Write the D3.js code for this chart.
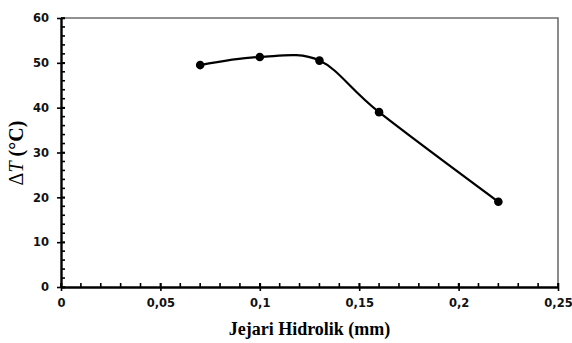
<!DOCTYPE html>
<html>
<head>
<meta charset="utf-8">
<script src="https://cdn.jsdelivr.net/npm/d3@7"></script>
<style>
  html, body { margin: 0; padding: 0; background: #fff; }
</style>
</head>
<body>
<div id="chart"></div>
<script>
// data
var radius_mm = [0.07, 0.10, 0.13, 0.16, 0.22];
var delta_t = [49.5, 51.3, 50.5, 39, 19];
var x_ticks = [0, 0.05, 0.1, 0.15, 0.2, 0.25];
var y_ticks = [0, 10, 20, 30, 40, 50, 60];
var x_title = "Jejari Hidrolik (mm)";

var W = 572, H = 343;
var plot = { left: 61, right: 558, top: 18, bottom: 287 };

var svg = d3.select("#chart").append("svg")
  .attr("width", W)
  .attr("height", H);

var x = d3.scaleLinear().domain([0, 0.25]).range([plot.left, plot.right]);
var y = d3.scaleLinear().domain([0, 60]).range([plot.bottom, plot.top]);

// frame top + right in grey
svg.append("path")
  .attr("d", "M" + plot.left + "," + plot.top + "H" + plot.right + "V" + plot.bottom)
  .attr("fill", "none")
  .attr("stroke", "#6e6e6e")
  .attr("stroke-width", 1.6);

var tickFont = "'DejaVu Sans', Verdana, sans-serif";
var fmt = function(d) { return String(d).replace(".", ","); };

// minor ticks
var xMinor = d3.range(0, 0.2501, 0.01);
svg.append("g").selectAll("line")
  .data(xMinor)
  .join("line")
  .attr("x1", d => x(d)).attr("x2", d => x(d))
  .attr("y1", plot.bottom).attr("y2", plot.bottom - 4)
  .attr("stroke", "#000").attr("stroke-width", 1.6);

var yMinor = d3.range(0, 60.01, 2);
svg.append("g").selectAll("line")
  .data(yMinor)
  .join("line")
  .attr("y1", d => y(d)).attr("y2", d => y(d))
  .attr("x1", plot.left).attr("x2", plot.left + 4)
  .attr("stroke", "#000").attr("stroke-width", 1.6);

// x axis
var xAxis = svg.append("g")
  .attr("transform", "translate(0," + plot.bottom + ")")
  .call(d3.axisBottom(x).tickValues(x_ticks).tickFormat(fmt).tickSize(4).tickSizeOuter(0));
xAxis.select(".domain").attr("stroke", "#000").attr("stroke-width", 2.4);
xAxis.selectAll(".tick line").attr("y1", -4).attr("stroke-width", 1.6);
xAxis.selectAll("text")
  .attr("y", 12)
  .style("font-family", tickFont)
  .style("font-size", "11.5px")
  .style("font-weight", "bold")
  .attr("fill", "#111");

// y axis
var yAxis = svg.append("g")
  .attr("transform", "translate(" + plot.left + ",0)")
  .call(d3.axisLeft(y).tickValues(y_ticks).tickSize(4).tickSizeOuter(0));
yAxis.select(".domain").attr("stroke", "#000").attr("stroke-width", 2.4);
yAxis.selectAll(".tick line").attr("x1", 4).attr("stroke-width", 1.6);
yAxis.selectAll("text")
  .attr("x", -12)
  .style("font-family", tickFont)
  .style("font-size", "11.5px")
  .style("font-weight", "bold")
  .attr("fill", "#111");

// smooth line
var pts = radius_mm.map((d, i) => [d, delta_t[i]]);
var line = d3.line()
  .x(d => x(d[0]))
  .y(d => y(d[1]))
  .curve(d3.curveCatmullRom.alpha(0));

svg.append("path")
  .datum(pts)
  .attr("d", line)
  .attr("fill", "none")
  .attr("stroke", "#000")
  .attr("stroke-width", 2.2);

svg.append("g").selectAll("circle")
  .data(pts)
  .join("circle")
  .attr("cx", d => x(d[0]))
  .attr("cy", d => y(d[1]))
  .attr("r", 4.3)
  .attr("fill", "#000");

// axis titles
var titleFont = "'Liberation Serif', 'Times New Roman', serif";
svg.append("text")
  .attr("x", (plot.left + plot.right) / 2)
  .attr("y", 335)
  .attr("text-anchor", "middle")
  .style("font-family", titleFont)
  .style("font-size", "18px")
  .style("font-weight", "bold")
  .text(x_title);

var yt = svg.append("text")
  .attr("transform", "translate(23," + 153 + ") rotate(-90)")
  .attr("text-anchor", "middle")
  .style("font-family", titleFont)
  .style("font-size", "20px")
  .style("font-weight", "bold");
yt.append("tspan").style("font-weight", "normal").text("\u0394");
yt.append("tspan").style("font-style", "italic").style("font-weight", "normal").text("T");
yt.append("tspan").text(" (\u00B0C)");
</script>
</body>
</html>
